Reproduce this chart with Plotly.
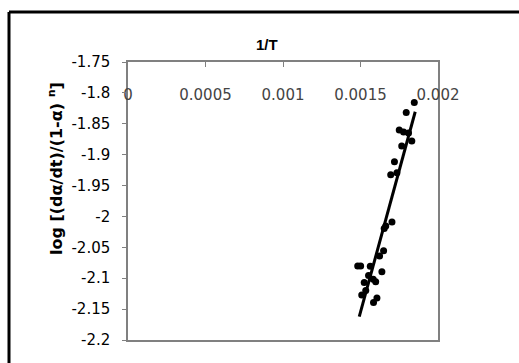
import plotly.graph_objects as go

inv_T = [0.001847, 0.001795, 0.00175, 0.001778, 0.00181, 0.001831, 0.001766,
         0.001719, 0.001735, 0.001695, 0.001703, 0.001663, 0.001653, 0.001649,
         0.001623, 0.001482, 0.001501, 0.001563, 0.001638, 0.001552, 0.001582,
         0.001598, 0.001524, 0.001534, 0.001508, 0.001606, 0.001584]
log_rate = [-1.8156, -1.8318, -1.8601, -1.8633, -1.8649, -1.8779, -1.8860,
            -1.9114, -1.9292, -1.9324, -2.0090, -2.0155, -2.0195, -2.0555,
            -2.0640, -2.0802, -2.0802, -2.0807, -2.0894, -2.0956, -2.1017,
            -2.1056, -2.1069, -2.1199, -2.1272, -2.1320, -2.1393]

fit_x = [0.001492, 0.001853]
fit_y = [-2.1623, -1.8305]

x_tickvals = [0, 0.0005, 0.001, 0.0015, 0.002]
x_ticktext = ["0", "0.0005", "0.001", "0.0015", "0.002"]
y_tickvals = [-1.75, -1.8, -1.85, -1.9, -1.95, -2.0, -2.05, -2.1, -2.15, -2.2]
y_ticktext = ["-1.75", "-1.8", "-1.85", "-1.9", "-1.95", "-2", "-2.05", "-2.1", "-2.15", "-2.2"]

fig = go.Figure()
fig.add_trace(go.Scatter(x=inv_T, y=log_rate, mode="markers",
                         marker=dict(color="black", size=7), showlegend=False))
fig.add_trace(go.Scatter(x=fit_x, y=fit_y, mode="lines",
                         line=dict(color="black", width=3), showlegend=False))

W, H = 519, 363
L, R, T, B = 128, 438, 62, 340

def px(xp):
    return (xp - L) / (R - L)

def py(yp):
    return (B - yp) / (B - T)

fig.update_layout(
    width=W, height=H,
    margin=dict(l=L, r=W - R, t=T, b=H - B),
    paper_bgcolor="white", plot_bgcolor="white",
    font=dict(family="DejaVu Sans", size=15, color="black"),
    xaxis=dict(range=[0, 0.002], side="top", tickvals=x_tickvals, ticktext=x_ticktext,
               ticks="inside", ticklen=5, tickcolor="#808080",
               ticklabelposition="inside", ticklabelstandoff=23, ticklabeloverflow="allow",
               showgrid=False, zeroline=False, showline=True, linecolor="#808080",
               linewidth=1.5, mirror=True),
    yaxis=dict(range=[-2.2, -1.75], tickvals=y_tickvals, ticktext=y_ticktext,
               ticks="outside", ticklen=4, tickcolor="#808080", ticklabelstandoff=9,
               showgrid=False, zeroline=False, showline=True, linecolor="#808080",
               linewidth=1.5, mirror=True),
    annotations=[
        dict(text="<b>1/T</b>", x=px(267), y=py(45), xref="paper", yref="paper",
             xanchor="center", yanchor="middle",
             showarrow=False, font=dict(family="Liberation Sans", size=15)),
        dict(text="<b>log [(dα/dt)/(1-α) <sup>n</sup>]</b>", x=px(55), y=py(169),
             xref="paper", yref="paper", xanchor="center", yanchor="middle",
             showarrow=False, textangle=-90,
             font=dict(family="DejaVu Sans", size=16)),
    ],
    shapes=[
        dict(type="line", xref="paper", yref="paper", x0=px(9), x1=px(530),
             y0=py(12), y1=py(12), line=dict(color="black", width=3)),
        dict(type="line", xref="paper", yref="paper", x0=px(9), x1=px(9),
             y0=py(12), y1=py(380), line=dict(color="black", width=3)),
    ],
)

fig.write_html("out.html")
